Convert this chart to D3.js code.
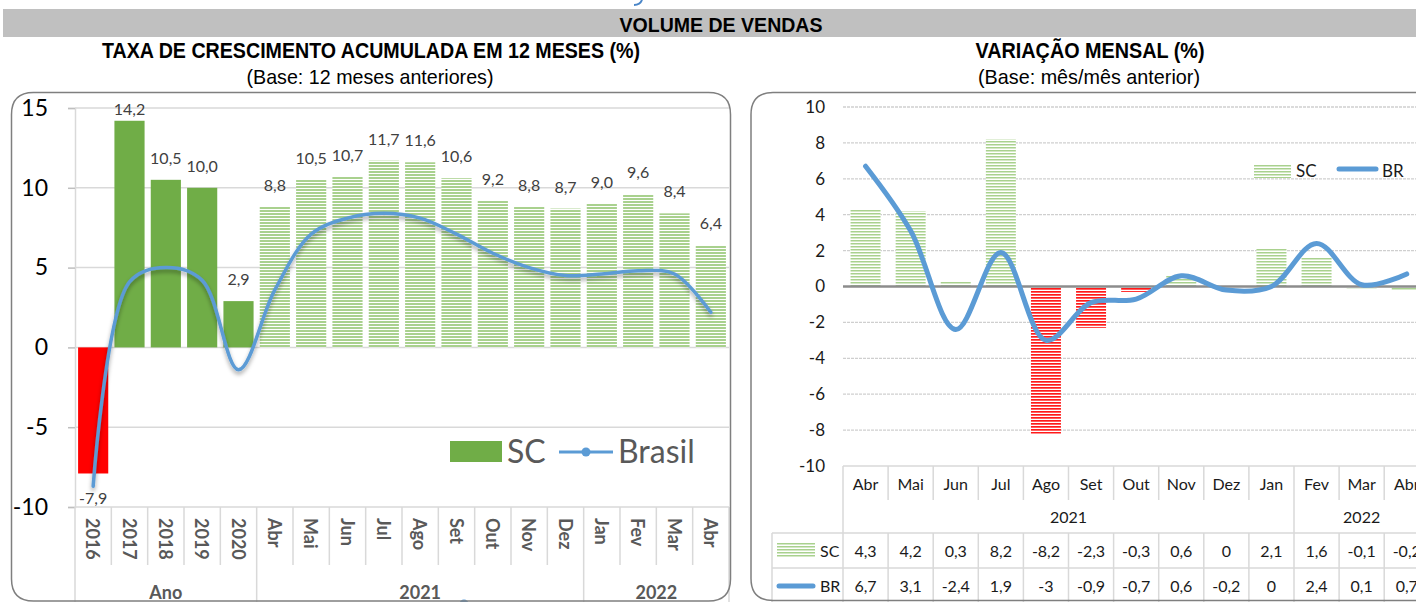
<!DOCTYPE html>
<html>
<head>
<meta charset="utf-8">
<script src="https://cdn.jsdelivr.net/npm/d3@7"></script>
<style>
  body { margin: 0; background: #fff; }
  svg { display: block; }
</style>
</head>
<body>
<svg width="1416" height="602"></svg>
<script>
// ---- data: accumulated 12 months ----
const acumCats = ["2016", "2017", "2018", "2019", "2020", "Abr", "Mai", "Jun", "Jul", "Ago", "Set", "Out", "Nov", "Dez", "Jan", "Fev", "Mar", "Abr"];
const acumGroups = ["Ano", "2021", "2022"];
const acumGroupSizes = [5, 9, 4];
const scAcum = [-7.9, 14.2, 10.5, 10.0, 2.9, 8.8, 10.5, 10.7, 11.7, 11.6, 10.6, 9.2, 8.8, 8.7, 9.0, 9.6, 8.4, 6.4];
const brAcum = [-8.7, 4.1, 5.0, 4.2, -1.4, 3.6, 7.1, 8.1, 8.4, 8.1, 7.1, 5.9, 5.0, 4.5, 4.6, 4.8, 4.6, 2.2];
const acumTicks = [-10, -5, 0, 5, 10, 15];

// ---- data: monthly variation ----
const mesCats = ["Abr", "Mai", "Jun", "Jul", "Ago", "Set", "Out", "Nov", "Dez", "Jan", "Fev", "Mar", "Abr"];
const mesGroups = ["2021", "2022"];
const mesGroupSizes = [10, 3];
const scMes = [4.3, 4.2, 0.3, 8.2, -8.2, -2.3, -0.3, 0.6, 0, 2.1, 1.6, -0.1, -0.2];
const brMes = [6.7, 3.1, -2.4, 1.9, -3, -0.9, -0.7, 0.6, -0.2, 0, 2.4, 0.1, 0.7];
const mesTicks = [-10, -8, -6, -4, -2, 0, 2, 4, 6, 8, 10];

const svg = d3.select("svg");
const locale = d3.formatLocale({decimal: ",", thousands: ".", grouping: [3], currency: ["", ""], minus: "-"});
const f1 = locale.format(".1f");
const fTab = v => String(v).replace(".", ",");

const titleFont = "'Liberation Sans Narrow', 'Liberation Sans', Arial, sans-serif";
const chartFont = "Lato, 'Open Sans', sans-serif";

// patterns + shadow
const defs = svg.append("defs");
function stripes(id, color, h, line) {
  const p = defs.append("pattern").attr("id", id).attr("patternUnits", "userSpaceOnUse")
    .attr("width", 6).attr("height", h);
  p.append("rect").attr("width", 6).attr("height", h).attr("fill", "#fff");
  p.append("rect").attr("width", 6).attr("height", line).attr("fill", color);
}
stripes("hatchL", "#a9d18e", 3, 2);
stripes("hatchG", "#a9d18e", 3, 1.5);
stripes("hatchR", "#ff1a1a", 3, 1.7);
defs.append("filter").attr("id", "shadow").attr("x", "-10%").attr("y", "-10%").attr("width", "120%").attr("height", "130%")
  .append("feDropShadow").attr("dx", 0).attr("dy", 3).attr("stdDeviation", 2)
  .attr("flood-color", "#000").attr("flood-opacity", 0.35);

// header
svg.append("rect").attr("x", 3).attr("y", 9).attr("width", 1413).attr("height", 28).attr("fill", "#c0c0c0");
function title(x, y, txt, size, bold, len) {
  svg.append("text").attr("x", x).attr("y", y).attr("text-anchor", "middle")
    .attr("font-family", titleFont).attr("font-size", size).attr("font-weight", bold ? "bold" : "normal")
    .attr("textLength", len).attr("lengthAdjust", "spacingAndGlyphs").text(txt);
}
title(721, 32, "VOLUME DE VENDAS", 20, true, 203);
title(371, 58, "TAXA DE CRESCIMENTO ACUMULADA EM 12 MESES (%)", 22, true, 538);
title(370, 84, "(Base: 12 meses anteriores)", 21, false, 247);
title(1090, 58, "VARIAÇÃO MENSAL (%)", 22, true, 229);
title(1089, 84, "(Base: mês/mês anterior)", 21, false, 222);

// stray blue mark at the very top
svg.append("path").attr("d", "M642,0 Q640,5 634,5").attr("fill", "none").attr("stroke", "#4a86c8").attr("stroke-width", 2);

function frame(x0, y0, x1, y1, r) {
  svg.append("path")
    .attr("d", `M${x0},${y0 + r} Q${x0},${y0} ${x0 + r},${y0} L${x1 - r},${y0} Q${x1},${y0} ${x1},${y0 + r} L${x1},${y1 - r} Q${x1},${y1} ${x1 - r},${y1} L${x0 + r},${y1} Q${x0},${y1} ${x0},${y1 - r} Z`)
    .attr("fill", "none").attr("stroke", "#7f7f7f").attr("stroke-width", 1.5);
}

// ================= LEFT CHART =================
{
  const g = svg.append("g");
  frame(11.5, 92.5, 730.5, 601, 22);
  const x = d3.scaleBand().domain(d3.range(acumCats.length)).range([75, 729]).paddingInner(0.17).paddingOuter(0.085);
  const y = d3.scaleLinear().domain([-10, 15]).range([507, 108]);

  g.selectAll(".grid").data(acumTicks).join("line")
    .attr("x1", 75).attr("x2", 729).attr("y1", d => y(d)).attr("y2", d => y(d))
    .attr("stroke", "#d9d9d9").attr("stroke-width", 1.5);

  const ax = g.append("g").attr("transform", "translate(75,0)")
    .call(d3.axisLeft(y).tickValues(acumTicks).tickSize(7).tickPadding(20).tickFormat(locale.format("d")));
  ax.select(".domain").attr("stroke", "#d9d9d9").attr("stroke-width", 1.5);
  ax.selectAll(".tick line").attr("stroke", "#bfbfbf").attr("stroke-width", 1.5);
  ax.selectAll(".tick text").attr("font-family", chartFont).attr("font-size", 23).attr("fill", "#000");

  // bars
  g.selectAll(".bar").data(scAcum).join("rect")
    .attr("x", (d, i) => x(i)).attr("width", x.bandwidth())
    .attr("y", d => y(Math.max(0, d))).attr("height", d => Math.abs(y(d) - y(0)))
    .attr("fill", (d, i) => d < 0 ? "#ff0000" : (i < 5 ? "#70ad47" : "url(#hatchL)"));

  // labels
  g.selectAll(".lbl").data(scAcum).join("text")
    .attr("x", (d, i) => x(i) + x.bandwidth() / 2)
    .attr("y", d => d < 0 ? y(d) + 31 : Math.max(y(d) - 16, 115))
    .attr("text-anchor", "middle").attr("font-family", chartFont).attr("font-size", 16).attr("fill", "#404040")
    .text(d => f1(d));

  // Brasil line
  const line = d3.line().x((d, i) => x(i) + x.bandwidth() / 2).y(d => y(d)).curve(d3.curveCatmullRom.alpha(0.5));
  g.append("path").datum(brAcum).attr("d", line).attr("fill", "none")
    .attr("stroke", "#5b9bd5").attr("stroke-width", 3.5).attr("stroke-linecap", "round").attr("filter", "url(#shadow)");

  // category axis
  const step = x.step();
  const edges = d3.range(acumCats.length + 1).map(i => 75 + i * step);
  let acc = 0;
  const groupEdges = [0];
  acumGroupSizes.forEach(s => { acc += s; groupEdges.push(acc); });
  g.selectAll(".sep").data(edges).join("line")
    .attr("x1", d => d).attr("x2", d => d).attr("y1", 507)
    .attr("y2", (d, i) => groupEdges.includes(i) ? 602 : 565)
    .attr("stroke", "#d9d9d9").attr("stroke-width", 1.5);
  g.selectAll(".cat").data(acumCats).join("text")
    .attr("transform", (d, i) => `translate(${x(i) + x.bandwidth() / 2},518) rotate(90)`)
    .attr("dominant-baseline", "central").attr("font-family", chartFont).attr("font-size", 18)
    .attr("font-weight", "bold").attr("fill", "#595959").text(d => d);
  g.selectAll(".grp").data(acumGroups).join("text")
    .attr("x", (d, i) => 75 + (groupEdges[i] + groupEdges[i + 1]) / 2 * step).attr("y", 599)
    .attr("text-anchor", "middle").attr("font-family", chartFont).attr("font-size", 18)
    .attr("font-weight", "bold").attr("fill", "#595959").text(d => d);
  g.append("circle").attr("cx", 464).attr("cy", 604).attr("r", 4.5).attr("fill", "#5b9bd5");

  // legend
  g.append("rect").attr("x", 450).attr("y", 441).attr("width", 52).attr("height", 21).attr("fill", "#70ad47");
  g.append("text").attr("x", 507).attr("y", 463).attr("font-family", chartFont).attr("font-size", 32).attr("fill", "#595959").text("SC");
  g.append("line").attr("x1", 559).attr("x2", 613).attr("y1", 452).attr("y2", 452).attr("stroke", "#5b9bd5").attr("stroke-width", 3);
  g.append("circle").attr("cx", 586).attr("cy", 452).attr("r", 4.5).attr("fill", "#5b9bd5");
  g.append("text").attr("x", 618).attr("y", 463).attr("font-family", chartFont).attr("font-size", 32).attr("fill", "#595959").text("Brasil");
}

// ================= RIGHT CHART =================
{
  const g = svg.append("g");
  frame(751, 92.5, 1460, 600.5, 22);
  const x = d3.scaleBand().domain(d3.range(mesCats.length)).range([843, 843 + 45.1 * mesCats.length]).paddingInner(0.335).paddingOuter(0.1675);
  const y = d3.scaleLinear().domain([-10, 10]).range([466, 107]);
  const x1 = 843 + 45.1 * mesCats.length;

  g.selectAll(".grid").data(mesTicks.filter(d => d !== 0 && d !== -10)).join("line")
    .attr("x1", 843).attr("x2", x1).attr("y1", d => y(d)).attr("y2", d => y(d))
    .attr("stroke", "#cfcfcf").attr("stroke-width", 1.3).attr("stroke-dasharray", "3,1");

  const ax = g.append("g").attr("transform", "translate(843,0)")
    .call(d3.axisLeft(y).tickValues(mesTicks).tickSize(0).tickPadding(18).tickFormat(locale.format("d")));
  ax.select(".domain").remove();
  ax.selectAll(".tick text").attr("font-family", chartFont).attr("font-size", 17).attr("fill", "#1a1a1a");

  g.selectAll(".bar").data(scMes).join("rect")
    .attr("x", (d, i) => x(i)).attr("width", x.bandwidth())
    .attr("y", d => y(Math.max(0, d))).attr("height", d => Math.abs(y(d) - y(0)))
    .attr("fill", (d, i) => d < 0 && i < 10 ? "url(#hatchR)" : "url(#hatchG)");

  g.append("line").attr("x1", 843).attr("x2", x1).attr("y1", y(0)).attr("y2", y(0))
    .attr("stroke", "#8c8c8c").attr("stroke-width", 2.5);

  const line = d3.line().x((d, i) => x(i) + x.bandwidth() / 2).y(d => y(d)).curve(d3.curveCatmullRom.alpha(0.5));
  g.append("path").datum(brMes).attr("d", line).attr("fill", "none")
    .attr("stroke", "#5b9bd5").attr("stroke-width", 5).attr("stroke-linecap", "round");

  // legend
  g.append("rect").attr("x", 1254).attr("y", 165).attr("width", 37).attr("height", 13).attr("fill", "url(#hatchG)");
  g.append("text").attr("x", 1296).attr("y", 177).attr("font-family", chartFont).attr("font-size", 17).attr("fill", "#1a1a1a").text("SC");
  g.append("line").attr("x1", 1339).attr("x2", 1376).attr("y1", 169).attr("y2", 169)
    .attr("stroke", "#5b9bd5").attr("stroke-width", 5).attr("stroke-linecap", "round");
  g.append("text").attr("x", 1382).attr("y", 177).attr("font-family", chartFont).attr("font-size", 17).attr("fill", "#1a1a1a").text("BR");

  // data table
  const step = x.step();
  const edges = d3.range(mesCats.length + 1).map(i => 843 + i * step);
  let acc = 0;
  const groupEdges = [0];
  mesGroupSizes.forEach(s => { acc += s; groupEdges.push(acc); });
  const grid = "#d9d9d9";
  g.append("line").attr("x1", 843).attr("x2", x1).attr("y1", 466).attr("y2", 466).attr("stroke", grid).attr("stroke-width", 1.5);
  g.selectAll(".hsep").data([533, 568]).join("line")
    .attr("x1", 772).attr("x2", x1).attr("y1", d => d).attr("y2", d => d).attr("stroke", grid).attr("stroke-width", 1.5);
  g.selectAll(".vsep").data(edges).join("line")
    .attr("x1", d => d).attr("x2", d => d).attr("y1", 466)
    .attr("y2", (d, i) => groupEdges.includes(i) ? 533 : 500).attr("stroke", grid).attr("stroke-width", 1.5);
  g.selectAll(".vsep2").data([772].concat(edges)).join("line")
    .attr("x1", d => d).attr("x2", d => d).attr("y1", 533).attr("y2", 602).attr("stroke", grid).attr("stroke-width", 1.5);

  const txt = (sel) => sel.attr("text-anchor", "middle").attr("font-family", chartFont).attr("font-size", 16).attr("fill", "#1a1a1a");
  g.selectAll(".cat").data(mesCats).join("text").call(txt)
    .attr("x", (d, i) => x(i) + x.bandwidth() / 2).attr("y", 490).text(d => d);
  g.selectAll(".grp").data(mesGroups).join("text").call(txt)
    .attr("x", (d, i) => 843 + (groupEdges[i] + groupEdges[i + 1]) / 2 * step).attr("y", 523).text(d => d);
  g.selectAll(".vsc").data(scMes).join("text").call(txt)
    .attr("x", (d, i) => x(i) + x.bandwidth() / 2).attr("y", 557).text(d => fTab(d));
  g.selectAll(".vbr").data(brMes).join("text").call(txt)
    .attr("x", (d, i) => x(i) + x.bandwidth() / 2).attr("y", 592).text(d => fTab(d));

  g.append("rect").attr("x", 777).attr("y", 543).attr("width", 38).attr("height", 14).attr("fill", "url(#hatchG)");
  g.append("text").attr("x", 820).attr("y", 557).attr("font-family", chartFont).attr("font-size", 16).attr("fill", "#1a1a1a").text("SC");
  g.append("line").attr("x1", 779).attr("x2", 813).attr("y1", 586).attr("y2", 586)
    .attr("stroke", "#5b9bd5").attr("stroke-width", 5).attr("stroke-linecap", "round");
  g.append("text").attr("x", 820).attr("y", 592).attr("font-family", chartFont).attr("font-size", 16).attr("fill", "#1a1a1a").text("BR");
}
</script>
</body>
</html>
